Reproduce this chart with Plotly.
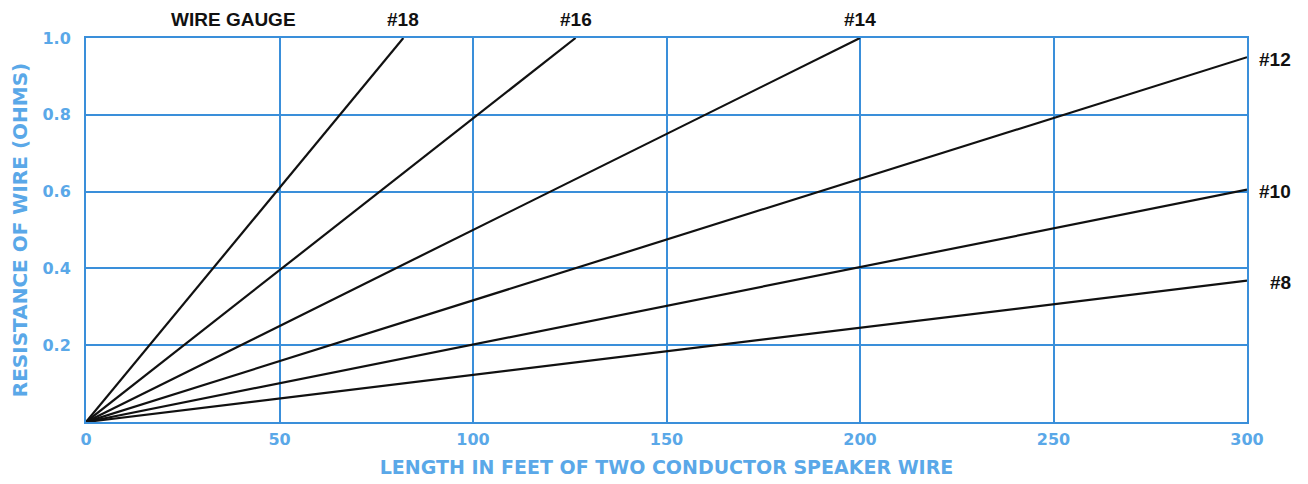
import plotly.graph_objects as go

# Wire gauges and their resistance lines (length in feet, resistance in ohms)
gauges = ["#18", "#16", "#14", "#12", "#10", "#8"]
end_lengths = [82, 126.5, 200, 300, 300, 300]
end_resistances = [1.0, 1.0, 1.0, 0.95, 0.605, 0.368]

x_ticks = [0, 50, 100, 150, 200, 250, 300]
y_ticks = [0.2, 0.4, 0.6, 0.8, 1.0]
y_tick_labels = ["0.2", "0.4", "0.6", "0.8", "1.0"]

BLUE = "#3a8fda"
LABEL_BLUE = "#5aa8e8"
FONT = "DejaVu Sans, Liberation Sans, sans-serif"
BFONT = "Liberation Sans, Arial, sans-serif"

fig = go.Figure()
for g, xe, ye in zip(gauges, end_lengths, end_resistances):
    fig.add_trace(go.Scatter(x=[0, xe], y=[0, ye], mode="lines",
                             line=dict(color="#111111", width=2.2), name=g,
                             showlegend=False, hoverinfo="skip"))

# gauge labels
for g, xe, ye in zip(gauges, end_lengths, end_resistances):
    if ye >= 1.0:
        fig.add_annotation(x=xe, y=1.0, yshift=19, text="<b>" + g + "</b>",
                           showarrow=False, font=dict(family=BFONT, size=19, color="#111"))
    else:
        fig.add_annotation(x=300, y=ye, xshift=46, yshift=-2, xanchor="right",
                           text="<b>" + g + "</b>", showarrow=False,
                           font=dict(family=BFONT, size=19, color="#111"))

fig.add_annotation(x=38, y=1.0, yshift=19, text="<b>WIRE GAUGE</b>", showarrow=False,
                   font=dict(family=BFONT, size=19, color="#111"))

fig.update_layout(
    width=1308, height=484,
    margin=dict(l=78, r=69, t=30, b=70),
    paper_bgcolor="white", plot_bgcolor="white",
    font=dict(family=FONT),
    xaxis=dict(range=[0, 300], tickvals=x_ticks, showgrid=True, gridcolor=BLUE, gridwidth=2,
               zeroline=False, showline=True, linecolor=BLUE, linewidth=2, mirror=True,
               tickfont=dict(size=16, color=LABEL_BLUE, weight="bold"), ticks="",
               ticklabelstandoff=2, automargin=False,
               title=dict(text="<b>LENGTH IN FEET OF TWO CONDUCTOR SPEAKER WIRE</b>",
                          font=dict(size=19, color=LABEL_BLUE), standoff=12)),
    yaxis=dict(range=[0, 1.0], tickvals=y_ticks, ticktext=y_tick_labels, showgrid=True,
               gridcolor=BLUE, gridwidth=2, zeroline=False, showline=True, linecolor=BLUE,
               linewidth=2, mirror=True, tickfont=dict(size=16, color=LABEL_BLUE, weight="bold"),
               ticks="", ticklabelstandoff=10, automargin=False,
               title=dict(text="<b>RESISTANCE OF WIRE (OHMS)</b>",
                          font=dict(size=20, color=LABEL_BLUE), standoff=12)),
)

fig.write_html("out.html")
